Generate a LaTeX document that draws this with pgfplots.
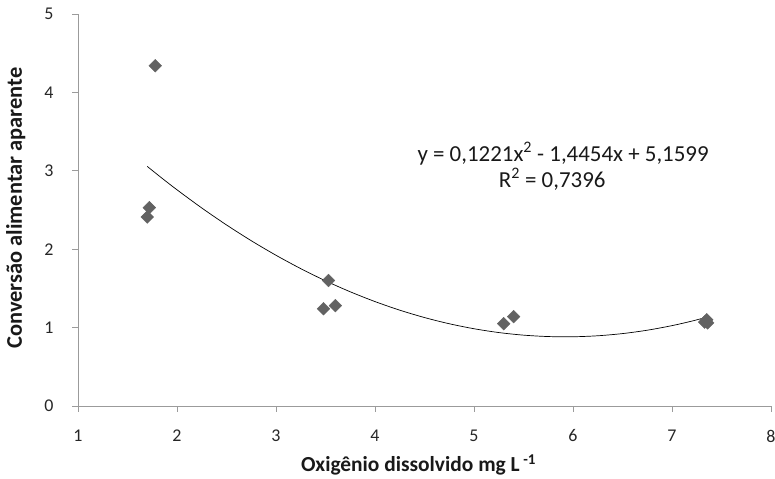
\documentclass[border=0pt]{standalone}
\usepackage{pgfplots}
\pgfplotsset{compat=1.18}
\usepackage{fontspec}
\setmainfont{Carlito}
\definecolor{axisgray}{RGB}{155,155,155}
\definecolor{markgray}{RGB}{98,98,98}
\begin{document}
\begin{tikzpicture}[x=1bp,y=1bp]
\begin{axis}[
  name=ax,
  scale only axis,
  width=693bp, height=392bp,
  xmin=1, xmax=8, ymin=0, ymax=5,
  xtick={1,2,...,8}, ytick={0,1,...,5},
  axis x line=bottom, axis y line=left,
  axis line style={-, draw=axisgray, line width=0.8pt},
  tick style={draw=axisgray, line width=0.8pt},
  tick align=outside, major tick length=6bp,
  /pgf/number format/assume math mode=true,
  ticklabel style={font=\fontsize{18}{20}\selectfont, text=black!85},
  xticklabel style={anchor=center, yshift=-24bp},
  yticklabel style={anchor=east, xshift=-15bp},
  clip=false,
]
\addplot[only marks, mark=square*, mark size=4.5bp,
  mark options={rotate=45, fill=markgray, draw=markgray}] coordinates {
  (1.78,4.34) (1.72,2.53) (1.70,2.41)
  (3.53,1.60) (3.48,1.24) (3.60,1.28)
  (5.30,1.05) (5.40,1.14)
  (7.33,1.07) (7.35,1.10) (7.36,1.06)
};
\addplot[black, line width=0.7pt, smooth, no marks] coordinates {
  (1.70,3.0556) (1.85,2.9038) (2.00,2.7575) (2.25,2.5259) (2.50,2.3095)
  (2.75,2.1084) (3.00,1.9226) (3.25,1.7520) (3.50,1.5967) (3.75,1.4567)
  (4.00,1.3319) (4.25,1.2224) (4.50,1.1281) (4.75,1.0491) (5.00,0.9854)
  (5.25,0.9369) (5.50,0.9037) (5.75,0.8858) (6.00,0.8831) (6.25,0.8957)
  (6.50,0.9235) (6.75,0.9666) (7.00,1.0250) (7.20,1.0827) (7.36,1.1359)
};
\node[font=\fontsize{23}{25}\selectfont, anchor=base, text=black!90] at (axis cs:5.90,3.12) {y = 0,1221x\textsuperscript{2} - 1,4454x + 5,1599};
\node[font=\fontsize{23}{25}\selectfont, anchor=base, text=black!90] at (axis cs:5.79,2.79) {R\textsuperscript{2} = 0,7396};
\end{axis}
\node[rotate=90, anchor=base, font=\bfseries\fontsize{22.5}{24}\selectfont, text=black!90] at ([xshift=-56bp,yshift=2bp]ax.west) {Conversão alimentar aparente};
\node[anchor=base, font=\bfseries\fontsize{21.5}{23}\selectfont, text=black!90] at ([xshift=-6bp,yshift=-66bp]ax.south) {Oxigênio dissolvido mg L\,\textsuperscript{-1}};
\pgfresetboundingbox
\path[use as bounding box] ([shift={(-78bp,-73bp)}]ax.south west) rectangle ([shift={(4bp,14bp)}]ax.north east);
\end{tikzpicture}
\end{document}
